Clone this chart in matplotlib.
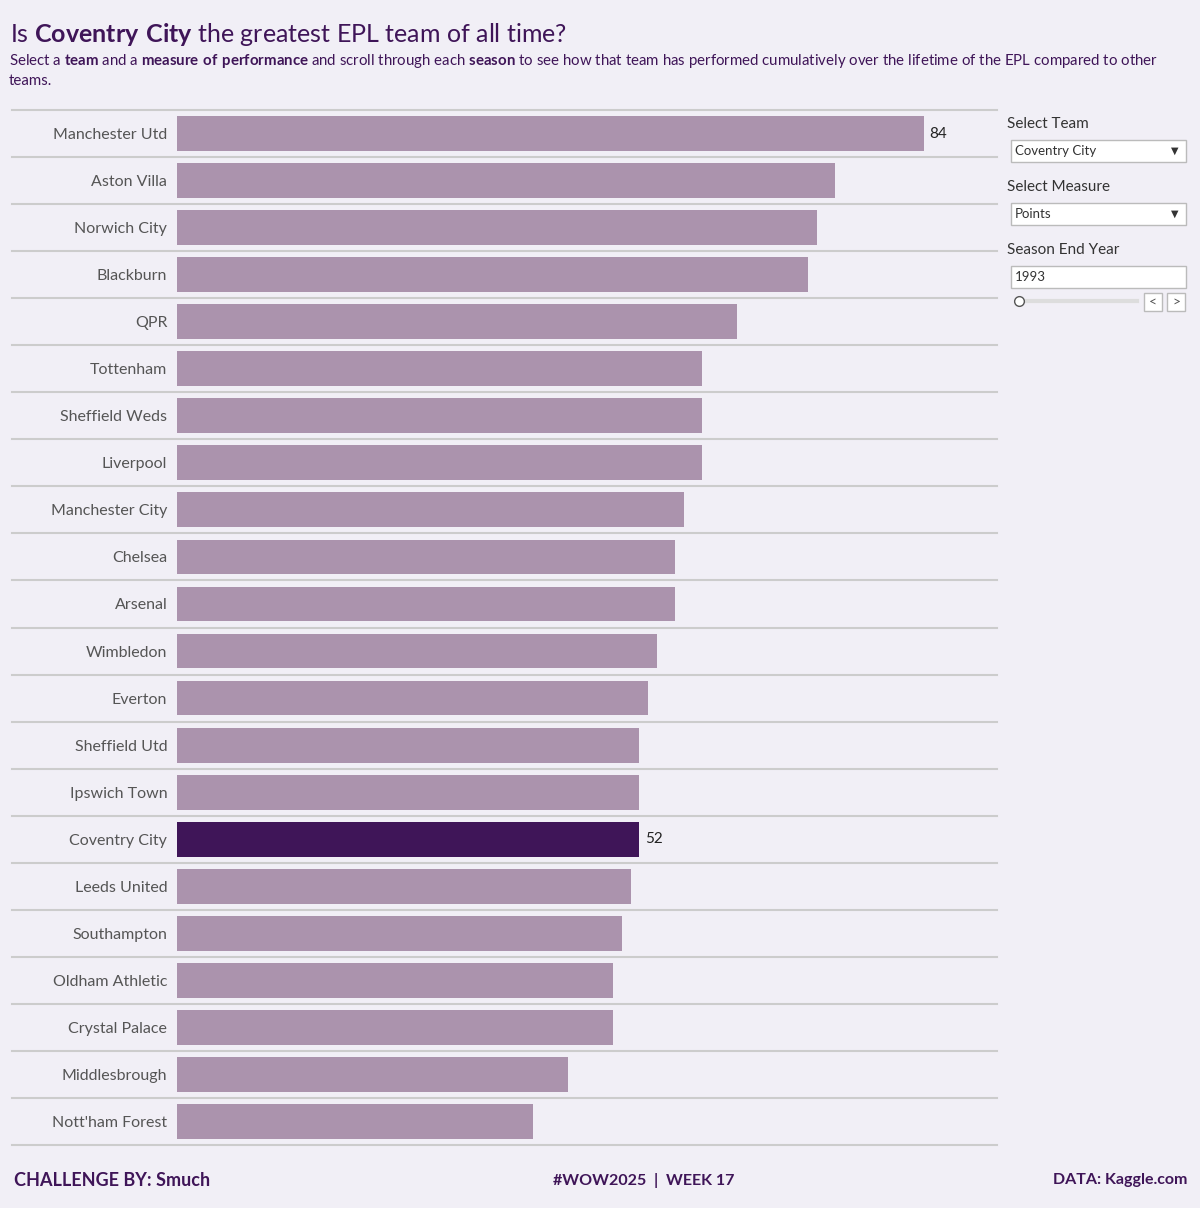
import matplotlib.pyplot as plt
from matplotlib.patches import Rectangle

teams = ['Manchester Utd', 'Aston Villa', 'Norwich City', 'Blackburn', 'QPR', 'Tottenham',
         'Sheffield Weds', 'Liverpool', 'Manchester City', 'Chelsea', 'Arsenal', 'Wimbledon',
         'Everton', 'Sheffield Utd', 'Ipswich Town', 'Coventry City', 'Leeds United',
         'Southampton', 'Oldham Athletic', 'Crystal Palace', 'Middlesbrough', "Nott'ham Forest"]
points = [84, 74, 72, 71, 63, 59, 59, 59, 57, 56, 56, 54, 53, 52, 52, 52, 51, 50, 49, 49, 44, 40]
selected = 'Coventry City'

bg = '#f1eff6'
plt.rcParams['font.family'] = ['Lato', 'DejaVu Sans']
plt.rcParams['mathtext.fontset'] = 'custom'
plt.rcParams['mathtext.rm'] = 'Lato'
plt.rcParams['mathtext.bf'] = 'Lato:bold'
fig = plt.figure(figsize=(12, 12.08), dpi=100, facecolor=bg)
ax = fig.add_axes([177/1200, 1-1145/1208, 820/1200, 1035/1208], facecolor=bg)

n = len(teams)
ys = list(range(n))
colors = ['#3f1558' if t == selected else '#ab93ad' for t in teams]
ax.barh(ys, points, height=0.74, color=colors)
ax.set_ylim(n-0.5, -0.5)
ax.set_xlim(0, 92.2)
for s in ax.spines.values():
    s.set_visible(False)
ax.set_xticks([])
ax.set_yticks(ys)
ax.set_yticklabels(teams, fontsize=11.5, color='#555555')
ax.tick_params(axis='y', length=0, pad=7)
for k in range(n+1):
    ax.axhline(k-0.5, xmin=-0.201, xmax=1, color='#cccccc', lw=1.5, clip_on=False)
for i, t in enumerate(teams):
    if i == 0 or t == selected:
        ax.text(points[i]+0.6, i, str(points[i]), va='center', fontsize=11, color='#222222')

# titles
fig.text(10/1200, 1-34/1208, r'Is $\bf{Coventry\ City}$ the greatest EPL team of all time?',
         fontsize=18, color='#3f1558', va='center')
fig.text(9/1200, 1-70/1208,
         'Select a $\\bf{team}$ and a $\\bf{measure\\ of\\ performance}$ and scroll through each $\\bf{season}$ to see how that team has performed cumulatively over the lifetime of the EPL compared to other\nteams.',
         fontsize=10.8, color='#3f1558', va='center', linespacing=1.4)

# controls
def label(y, s):
    fig.text(1007/1200, 1-y/1208, s, fontsize=11, color='#333333', va='center')

def box(y, s, arrow=True):
    fig.patches.append(Rectangle((1011/1200, 1-(y+11)/1208), 175/1200, 22/1208,
                                 transform=fig.transFigure, facecolor='white',
                                 edgecolor='#bbbbbb', lw=1))
    fig.text(1015/1200, 1-y/1208, s, fontsize=9.5, color='#333333', va='center')
    if arrow:
        fig.text(1175/1200, 1-y/1208, '▼', fontsize=7, color='#333333', va='center', ha='center')

label(124, 'Select Team')
box(151, 'Coventry City')
label(187, 'Select Measure')
box(214, 'Points')
label(250, 'Season End Year')
box(277, '1993', arrow=False)
fig.lines.append(plt.Line2D([1019/1200, 1137/1200], [1-301/1208]*2, transform=fig.transFigure,
                            color='#dddddd', lw=3))
fig.lines.append(plt.Line2D([1019/1200], [1-301/1208], transform=fig.transFigure, marker='o',
                            ms=7, mfc='white', mec='#555555'))
for x, s in [(1153, '<'), (1176, '>')]:
    fig.patches.append(Rectangle(((x-9)/1200, 1-311/1208), 18/1200, 18/1208,
                                 transform=fig.transFigure, facecolor='white',
                                 edgecolor='#bbbbbb', lw=1))
    fig.text(x/1200, 1-302/1208, s, fontsize=10, color='#555555', ha='center', va='center')

# footer
fy = 1-1180/1208
fig.text(14/1200, fy, 'CHALLENGE BY: Smuch', fontsize=13, fontweight='bold', color='#3f1558', va='center')
fig.text(644/1200, fy, '#WOW2025  |  WEEK 17', fontsize=11.5, fontweight='bold', color='#3f1558',
         va='center', ha='center')
fig.text(1187/1200, fy, 'DATA: Kaggle.com', fontsize=11.5, fontweight='bold', color='#3f1558',
         va='center', ha='right')

fig.savefig('out.png', facecolor=bg)
